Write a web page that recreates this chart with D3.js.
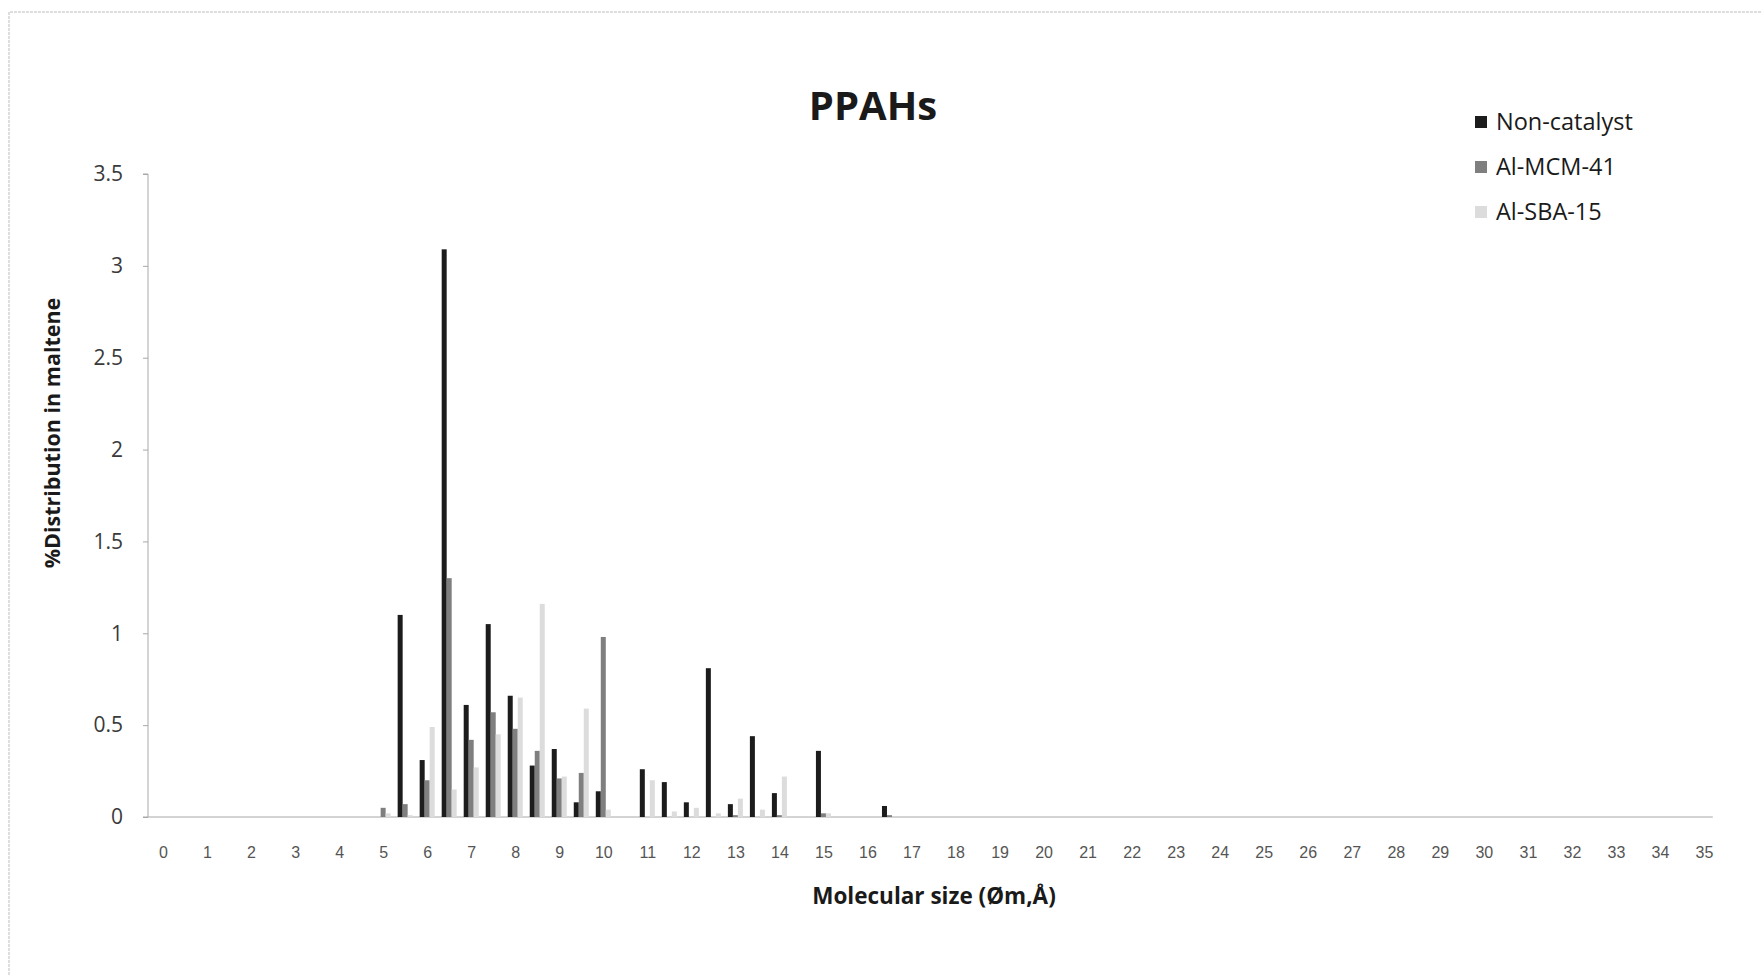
<!DOCTYPE html>
<html>
<head>
<meta charset="utf-8">
<script src="https://cdn.jsdelivr.net/npm/d3@7"></script>
<style>
  html, body { margin: 0; padding: 0; background: #fff; }
  svg { display: block; }
  .y.axis text { font-family: 'Open Sans', sans-serif; font-size: 21px; fill: #3a3a3a; }
  .x.axis text { font-family: 'Liberation Sans Narrow', 'Liberation Sans', sans-serif; font-size: 16px; fill: #555; }
  .axis path, .axis line { stroke: #a8a8a8; }
</style>
</head>
<body>
<div id="chart"></div>
<script>
// molecular size groups (Øm, Å) and % distribution per series
const sizes = [5.0, 5.5, 6.0, 6.5, 7.0, 7.5, 8.0, 8.5, 9.0, 9.5, 10.0, 11.0, 11.5, 12.0, 12.5, 13.0, 13.5, 14.0, 15.0, 16.5];
const nonCatalyst = [0.00, 1.10, 0.31, 3.09, 0.61, 1.05, 0.66, 0.28, 0.37, 0.08, 0.14, 0.26, 0.19, 0.08, 0.81, 0.07, 0.44, 0.13, 0.36, 0.06];
const alMCM41 = [0.05, 0.07, 0.20, 1.30, 0.42, 0.57, 0.48, 0.36, 0.21, 0.24, 0.98, 0.00, 0.00, 0.00, 0.00, 0.01, 0.00, 0.01, 0.02, 0.01];
const alSBA15 = [0.02, 0.01, 0.49, 0.15, 0.27, 0.45, 0.65, 1.16, 0.22, 0.59, 0.04, 0.20, 0.03, 0.05, 0.02, 0.10, 0.04, 0.22, 0.02, 0.00];

const seriesNames = ['Non-catalyst', 'Al-MCM-41', 'Al-SBA-15'];
const xTicks = d3.range(0, 36);
const yTicks = [0, 0.5, 1, 1.5, 2, 2.5, 3, 3.5];

const W = 1762;
const H = 975;

const series = [
  { name: seriesNames[0], values: nonCatalyst, color: '#1c1c1c' },
  { name: seriesNames[1], values: alMCM41, color: '#7f7f7f' },
  { name: seriesNames[2], values: alSBA15, color: '#dcdcdc' },
];

const svg = d3.select('#chart').append('svg')
    .attr('width', W)
    .attr('height', H);

// faint scan frame
svg.append('path')
    .attr('d', `M9,${H} L9,12 L${W},12`)
    .attr('fill', 'none')
    .attr('stroke', '#d4d4d4')
    .attr('stroke-width', 1.5)
    .attr('stroke-dasharray', '3,1');

const xScale = d3.scaleLinear()
    .domain([0, 35])
    .range([163, 1704]);

const yScale = d3.scaleLinear()
    .domain([0, 3.5])
    .range([817, 174]);

// bars inside one size group
const inner = d3.scaleBand()
    .domain(seriesNames)
    .range([-7.5, 7.5]);

const yAxis = d3.axisLeft(yScale)
    .tickValues(yTicks)
    .tickSize(5)
    .tickPadding(20)
    .tickFormat(d => String(d));

svg.append('g')
    .attr('class', 'y axis')
    .attr('transform', 'translate(148,0)')
    .call(yAxis)
  .call(g => g.select('.domain').attr('d', `M-5,174H0V817H-5`));

const xAxis = d3.axisBottom(xScale)
    .tickValues(xTicks)
    .tickSize(0)
    .tickPadding(30);

svg.append('g')
    .attr('class', 'x axis')
    .attr('transform', `translate(0,${yScale(0)})`)
    .call(xAxis)
  .call(g => g.select('.domain').attr('d', `M148,0H${xScale(35.2)}`));

const groups = svg.append('g')
    .attr('class', 'bars')
  .selectAll('g')
    .data(series)
  .enter().append('g')
    .attr('fill', d => d.color);

groups.selectAll('rect')
    .data(d => d.values.map((v, i) => ({ name: d.name, size: sizes[i], value: v })))
  .enter().append('rect')
    .attr('x', d => xScale(d.size) + inner(d.name))
    .attr('width', inner.bandwidth())
    .attr('y', d => yScale(d.value))
    .attr('height', d => yScale(0) - yScale(d.value));

// title
svg.append('text')
    .attr('x', 873)
    .attr('y', 120)
    .attr('text-anchor', 'middle')
    .style('font-family', "'Open Sans', sans-serif")
    .style('font-weight', 'bold')
    .style('font-size', '40px')
    .style('fill', '#1a1a1a')
    .text('PPAHs');

// axis titles
svg.append('text')
    .attr('x', 934)
    .attr('y', 904)
    .attr('text-anchor', 'middle')
    .style('font-family', "'Open Sans', sans-serif")
    .style('font-weight', 'bold')
    .style('font-size', '22.5px')
    .style('fill', '#1a1a1a')
    .text('Molecular size (Øm,Å)');

svg.append('text')
    .attr('transform', 'translate(60,433) rotate(-90)')
    .attr('text-anchor', 'middle')
    .style('font-family', "'Open Sans', sans-serif")
    .style('font-weight', 'bold')
    .style('font-size', '21.5px')
    .style('fill', '#1a1a1a')
    .text('%Distribution in maltene');

// legend
const legend = svg.append('g')
    .attr('class', 'legend')
  .selectAll('g')
    .data(series)
  .enter().append('g')
    .attr('transform', (d, i) => `translate(1475, ${122 + i * 45})`);

legend.append('rect')
    .attr('x', 0)
    .attr('y', -6)
    .attr('width', 12)
    .attr('height', 12)
    .attr('fill', d => d.color);

legend.append('text')
    .attr('x', 21)
    .attr('y', 0)
    .attr('dy', '0.35em')
    .style('font-family', "'Open Sans', sans-serif")
    .style('font-size', '23.5px')
    .style('fill', '#1a1a1a')
    .text(d => d.name);
</script>
</body>
</html>
